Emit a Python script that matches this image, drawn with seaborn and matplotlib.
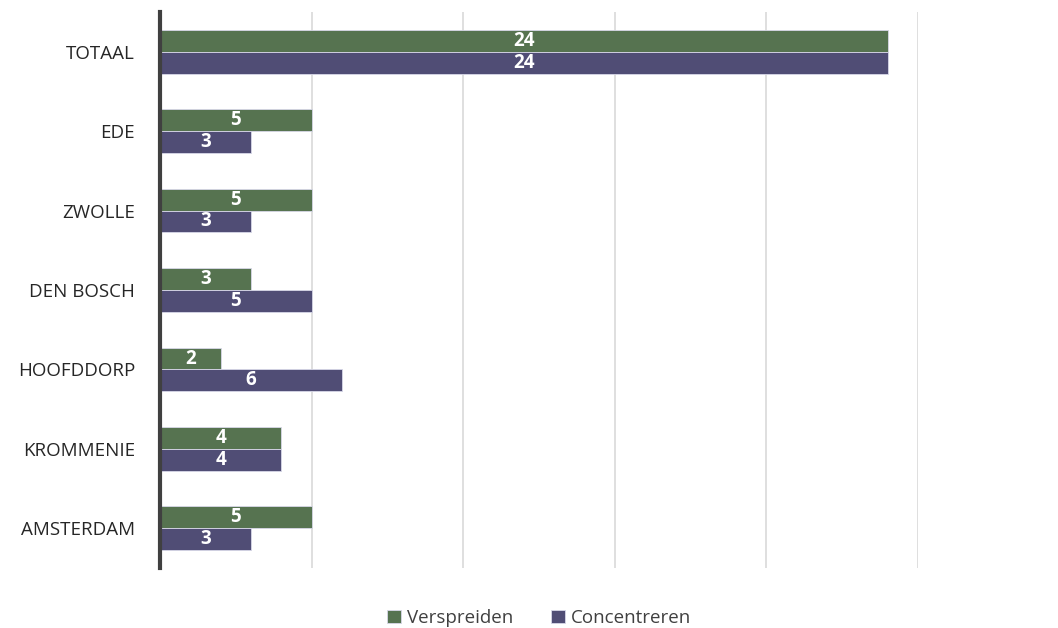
import pandas as pd
import matplotlib.pyplot as plt
import seaborn as sns

# Verspreiden vs concentreren per locatie

categories = ['TOTAAL', 'EDE', 'ZWOLLE', 'DEN BOSCH', 'HOOFDDORP', 'KROMMENIE', 'AMSTERDAM']
verspreiden = [24, 5, 5, 3, 2, 4, 5]
concentreren = [24, 3, 3, 5, 6, 4, 3]
series = ['Verspreiden', 'Concentreren']
colors = ['#52794a', '#4a467c']

data = pd.DataFrame({
    'locatie': categories * 2,
    'aantal': verspreiden + concentreren,
    'reeks': [series[0]] * len(categories) + [series[1]] * len(categories),
})

sns.set_style('white')
plt.rcParams['font.family'] = ['Open Sans', 'DejaVu Sans']

fig = plt.figure(figsize=(10.58, 6.28), dpi=100)
ax = fig.add_axes([160 / 1058, 60 / 628, 758 / 1058, 556 / 628])

sns.barplot(data=data, y='locatie', x='aantal', hue='reeks', order=categories,
            hue_order=series, palette=colors, orient='h', width=0.55,
            edgecolor='#d8d8e8', linewidth=0.6, ax=ax)

for container in ax.containers:
    ax.bar_label(container, label_type='center', color='white',
                 fontweight='bold', fontsize=13.5)

ax.set_xlim(0, 25)
ax.set_xticks([5, 10, 15, 20, 25])
ax.set_xticklabels([])
ax.tick_params(axis='x', length=0)
ax.tick_params(axis='y', length=0, labelsize=13.5, colors='#262626', pad=18)
ax.grid(axis='x', color='#d9d9d9', linewidth=1.2)
ax.set_axisbelow(True)
ax.set_xlabel('')
ax.set_ylabel('')
for side in ['top', 'right', 'bottom']:
    ax.spines[side].set_visible(False)
ax.spines['left'].set_color('#404040')
ax.spines['left'].set_linewidth(3)

ax.legend(loc='center', bbox_to_anchor=(0.5, -50 / 556), ncol=2, frameon=False,
          fontsize=13.5, handlelength=0.75, handleheight=0.75, handletextpad=0.3,
          columnspacing=2.0, labelcolor='#404040')

fig.savefig('out.png', dpi=100)
